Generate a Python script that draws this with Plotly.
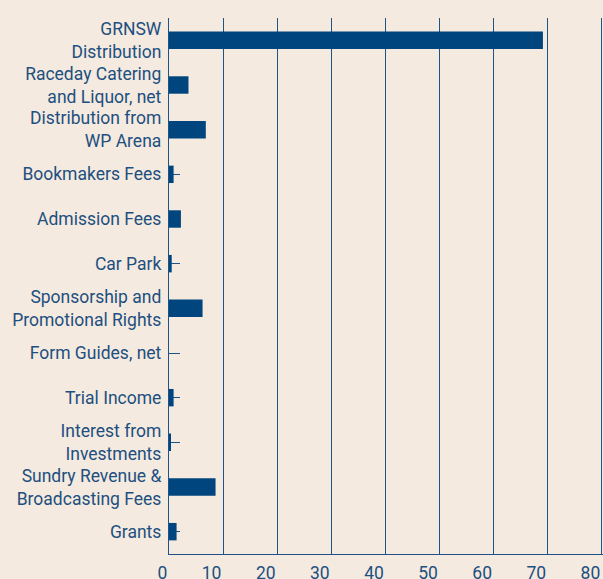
import plotly.graph_objects as go

categories = [
    "GRNSW<br>Distribution",
    "Raceday Catering<br>and Liquor, net",
    "Distribution from<br>WP Arena",
    "Bookmakers Fees",
    "Admission Fees",
    "Car Park",
    "Sponsorship and<br>Promotional Rights",
    "Form Guides, net",
    "Trial Income",
    "Interest from<br>Investments",
    "Sundry Revenue &<br>Broadcasting Fees",
    "Grants",
]
values = [69.1, 3.6, 6.8, 0.85, 2.2, 0.5, 6.2, 0.0, 0.85, 0.25, 8.6, 1.4]
x_ticks = [0, 10, 20, 30, 40, 50, 60, 70, 80]

BG = "#f4eadf"
BAR = "#00457d"
LINE = "#1f5285"
TEXT = "#1d4f80"

fig = go.Figure(go.Bar(
    y=categories, x=values, orientation="h",
    marker=dict(color=BAR, line=dict(width=0)),
    width=0.39,
))

fig.update_layout(
    width=603, height=579,
    margin=dict(l=169, r=0, t=18, b=25, pad=0),
    paper_bgcolor=BG, plot_bgcolor=BG,
    font=dict(family="Roboto", size=17.5, color=TEXT),
    showlegend=False,
)
fig.update_xaxes(
    range=[0, 80.2], tickvals=x_ticks, ticktext=[str(v) for v in x_ticks],
    showgrid=True, gridcolor=LINE, gridwidth=1.3,
    showline=True, linecolor=LINE, linewidth=1.3,
    zeroline=False, ticks="", ticklabelposition="outside left",
    ticklabelshift=-1, ticklabelstandoff=3,
    automargin=False,
    tickfont=dict(size=17.5, color=TEXT),
)
fig.update_yaxes(
    categoryorder="array", categoryarray=categories, autorange="reversed",
    showgrid=False, zeroline=False,
    showline=True, linecolor=LINE, linewidth=1.3,
    ticks="inside", ticklen=11, tickcolor=LINE, tickwidth=1.3,
    layer="below traces", ticklabelstandoff=3, automargin=False,
    tickfont=dict(size=17.5, color=TEXT),
)
fig.write_html(
    "out.html",
    config={"displayModeBar": False},
    post_script=(
        "document.body.style.margin='0';"
        "document.body.style.overflow='hidden';"
        f"document.body.style.background='{BG}';"
    ),
)
